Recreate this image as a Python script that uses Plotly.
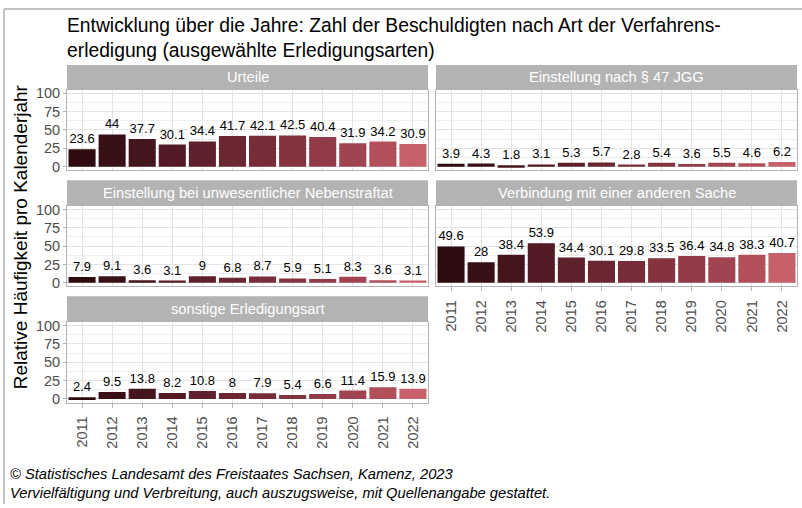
import plotly.graph_objects as go

# --- data -------------------------------------------------------------
years = [str(y) for y in range(2011, 2023)]

panel_titles = [
    "Urteile",
    "Einstellung nach § 47 JGG",
    "Einstellung bei unwesentlicher Nebenstraftat",
    "Verbindung mit einer anderen Sache",
    "sonstige Erledigungsart",
]

urteile = [23.6, 44, 37.7, 30.1, 34.4, 41.7, 42.1, 42.5, 40.4, 31.9, 34.2, 30.9]
jgg_47 = [3.9, 4.3, 1.8, 3.1, 5.3, 5.7, 2.8, 5.4, 3.6, 5.5, 4.6, 6.2]
nebenstraftat = [7.9, 9.1, 3.6, 3.1, 9, 6.8, 8.7, 5.9, 5.1, 8.3, 3.6, 3.1]
verbindung = [49.6, 28, 38.4, 53.9, 34.4, 30.1, 29.8, 33.5, 36.4, 34.8, 38.3, 40.7]
sonstige = [2.4, 9.5, 13.8, 8.2, 10.8, 8, 7.9, 5.4, 6.6, 11.4, 15.9, 13.9]

series = [urteile, jgg_47, nebenstraftat, verbindung, sonstige]

y_ticks = [0, 25, 50, 75, 100]

# one colour per year, dark to light
year_colors = [
    "#2e0b0f", "#3a1017", "#45151c", "#521b23", "#5e202a", "#6a2631",
    "#772c38", "#84333f", "#913a48", "#9f4450", "#b14f5a", "#c6616b",
]

FONT = "Liberation Sans, Arial"

# --- layout geometry (pixels) ------------------------------------------
W, H = 802, 508
col_x = [(67, 428), (436, 797)]
# (strip top, panel top, panel bottom)
row_y = [(62, 87, 169), (179, 205, 287), (297, 323, 405)]
# panel index -> (row, col)
positions = [(0, 0), (0, 1), (1, 0), (1, 1), (2, 0)]
show_x_labels = [False, False, False, True, True]


def fx(px):
    return px / W


def fy(py):
    return 1 - py / H


fig = go.Figure()
shapes = []
annotations = []

for i, (vals, title) in enumerate(zip(series, panel_titles)):
    r, c = positions[i]
    x0, x1 = col_x[c]
    st, pt, pb = row_y[r]
    n = "" if i == 0 else str(i + 1)

    fig.add_trace(go.Bar(
        x=years, y=vals,
        marker=dict(color=year_colors, line=dict(width=0)),
        width=0.9,
        text=[f"{v:g}" for v in vals],
        textposition="outside",
        textfont=dict(size=13, color="#000000", family=FONT),
        constraintext="none",
        cliponaxis=False,
        showlegend=False,
        hoverinfo="skip",
        xaxis="x" + n, yaxis="y" + n,
    ))

    fig.update_layout(**{
        "xaxis" + n: dict(
            domain=[fx(x0), fx(x1)], anchor="y" + n,
            type="category",
            showgrid=True, gridcolor="#e3e3e3", gridwidth=1,
            showline=True, mirror=True, linecolor="#b3b3b3", linewidth=1,
            showticklabels=show_x_labels[i],
            ticks="outside" if show_x_labels[i] else "", ticklen=4,
            tickcolor="#b3b3b3",
            ticklabelstandoff=3,
            tickangle=-90,
            tickfont=dict(size=14.5, color="#4d4d4d", family=FONT),
            fixedrange=True,
        ),
        "yaxis" + n: dict(
            domain=[fy(pb), fy(pt)], anchor="x" + n,
            range=[-5, 105],
            tickvals=y_ticks,
            showgrid=True, gridcolor="#e3e3e3", gridwidth=1,
            minor=dict(dtick=12.5, tick0=0, showgrid=True,
                       gridcolor="#efefef", gridwidth=0.6),
            zeroline=False,
            showline=True, mirror=True, linecolor="#b3b3b3", linewidth=1,
            showticklabels=(c == 0),
            ticks="outside" if c == 0 else "", ticklen=3, tickcolor="#b3b3b3",
            tickfont=dict(size=14.5, color="#4d4d4d", family=FONT),
            fixedrange=True,
        ),
    })

    # facet strip
    shapes.append(dict(
        type="rect", xref="paper", yref="paper",
        x0=fx(x0), x1=fx(x1), y0=fy(pt), y1=fy(st),
        fillcolor="#b3b3b3", line=dict(width=0), layer="above",
    ))
    annotations.append(dict(
        text=title, xref="paper", yref="paper",
        x=fx((x0 + x1) / 2), y=fy((st + pt) / 2),
        xanchor="center", yanchor="middle", showarrow=False,
        font=dict(size=14.7, color="#ffffff", family=FONT),
    ))

# outer frame lines (top and left)
shapes.append(dict(type="line", xref="paper", yref="paper",
                   x0=fx(4), x1=1, y0=fy(5), y1=fy(5),
                   line=dict(color="#c4c4c4", width=2)))
shapes.append(dict(type="line", xref="paper", yref="paper",
                   x0=fx(4), x1=fx(4), y0=0, y1=fy(5),
                   line=dict(color="#c4c4c4", width=2)))

# title
annotations.append(dict(
    text="Entwicklung über die Jahre: Zahl der Beschuldigten nach Art der Verfahrens-<br>"
         "erledigung (ausgewählte Erledigungsarten)",
    xref="paper", yref="paper", x=fx(65), y=fy(9),
    xanchor="left", yanchor="top", align="left", showarrow=False,
    font=dict(size=19.3, color="#000000", family=FONT),
))

# y axis title
annotations.append(dict(
    text="Relative Häufigkeit pro Kalenderjahr",
    xref="paper", yref="paper", x=fx(20), y=fy(237),
    xanchor="center", yanchor="middle", textangle=-90, showarrow=False,
    font=dict(size=19, color="#000000", family=FONT),
))

# source note
annotations.append(dict(
    text="<i>© Statistisches Landesamt des Freistaates Sachsen, Kamenz, 2023<br>"
         "Vervielfältigung und Verbreitung, auch auszugsweise, mit Quellenangabe gestattet.</i>",
    xref="paper", yref="paper", x=fx(8), y=fy(467),
    xanchor="left", yanchor="top", align="left", showarrow=False,
    font=dict(size=14.7, color="#000000", family=FONT),
))

fig.update_layout(
    width=W, height=H,
    margin=dict(l=0, r=0, t=0, b=0),
    paper_bgcolor="#ffffff", plot_bgcolor="#ffffff",
    shapes=shapes, annotations=annotations,
    bargap=0.1,
)

fig.write_html("out.html", config={"displayModeBar": False})
